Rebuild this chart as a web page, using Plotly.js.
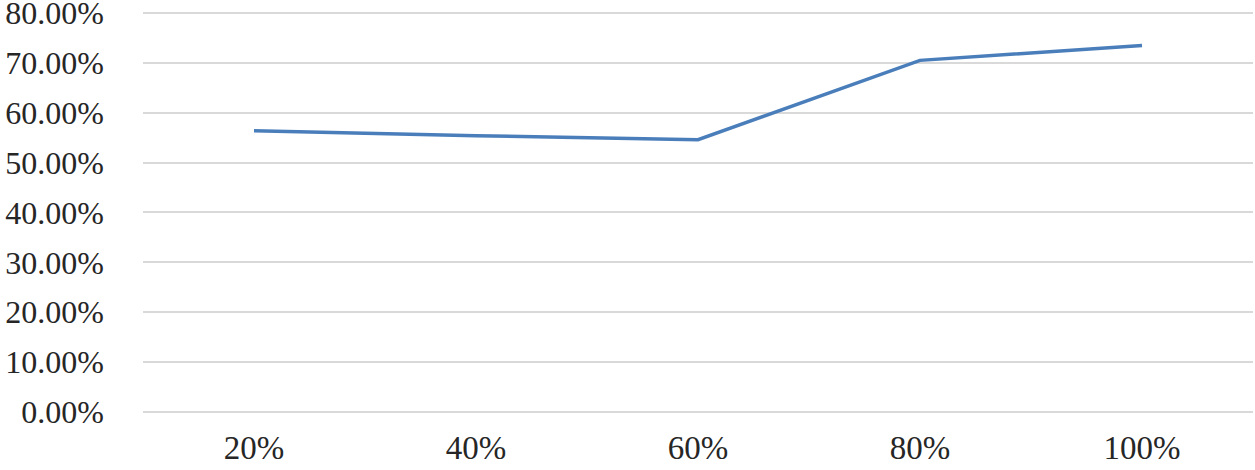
<!DOCTYPE html>
<html>
<head>
<meta charset="utf-8">
<script src="https://cdn.plot.ly/plotly-3.0.1.min.js"></script>
<style>html,body{margin:0;padding:0;background:#fff}#chart{width:1255px;height:470px}</style>
</head>
<body>
<div id="chart"></div>
<script>
const categories = ["20%", "40%", "60%", "80%", "100%"];
const values = [0.564, 0.554, 0.546, 0.705, 0.735];
const yTickValues = [0, 0.1, 0.2, 0.3, 0.4, 0.5, 0.6, 0.7, 0.8];

const FONT = "'Liberation Serif', 'Times New Roman', serif";

const trace = {
  x: categories,
  y: values,
  type: "scatter",
  mode: "lines",
  line: {color: "#4a7ebb", width: 3.5},
  hoverinfo: "skip"
};

const layout = {
  width: 1255,
  height: 470,
  margin: {l: 143, r: 2, t: 8, b: 58},
  paper_bgcolor: "#ffffff",
  plot_bgcolor: "#ffffff",
  showlegend: false,
  font: {family: FONT, size: 33, color: "#262626"},
  xaxis: {
    type: "category",
    range: [-0.5, 4.5],
    showgrid: false,
    zeroline: false,
    showline: false,
    ticks: "",
    ticklabelstandoff: 13,
    tickfont: {family: FONT, size: 33, color: "#262626"}
  },
  yaxis: {
    range: [0, 0.81],
    tickvals: yTickValues,
    tickformat: ".2%",
    showgrid: true,
    gridcolor: "#d9d9d9",
    gridwidth: 2,
    zeroline: true,
    zerolinecolor: "#d9d9d9",
    zerolinewidth: 2,
    showline: false,
    ticks: "",
    ticklabelstandoff: 38,
    ticklabeloverflow: "allow",
    tickfont: {family: FONT, size: 32, color: "#262626"}
  }
};

Plotly.newPlot("chart", [trace], layout, {staticPlot: true, displayModeBar: false});
</script>
</body>
</html>
